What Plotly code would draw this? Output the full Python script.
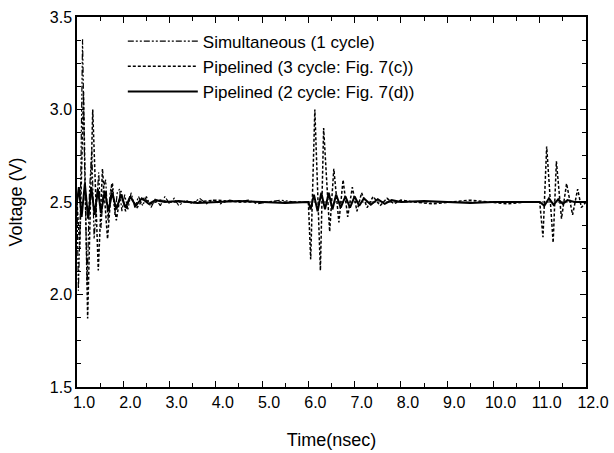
import plotly.graph_objects as go

# Simultaneous (1 cycle) - dash-dot-dot
t_sim = [1.00, 1.03, 1.07, 1.12, 1.17, 1.22, 1.27, 1.32, 1.37, 1.42, 1.47, 1.52, 1.57,
         1.62, 1.67, 1.72, 1.77, 1.82, 1.87, 1.92, 1.97, 2.03, 2.10, 2.17, 2.25, 2.33,
         2.42, 2.50, 2.60, 2.70, 2.80, 2.90, 3.00, 3.10, 3.20, 3.35, 3.50, 3.65, 3.80,
         3.95, 4.10, 4.30, 4.50, 4.70, 4.90, 5.10, 5.40, 5.70, 6.00, 7.00, 8.00, 9.00,
         10.0, 11.0, 12.0]
v_sim = [2.50, 2.02, 2.42, 3.38, 2.62, 2.05, 2.56, 2.78, 2.30, 2.46, 2.66, 2.36, 2.58,
         2.62, 2.40, 2.56, 2.60, 2.43, 2.55, 2.57, 2.45, 2.54, 2.46, 2.55, 2.47, 2.53,
         2.48, 2.53, 2.47, 2.52, 2.48, 2.53, 2.49, 2.52, 2.48, 2.51, 2.49, 2.52, 2.49,
         2.51, 2.49, 2.51, 2.50, 2.51, 2.49, 2.50, 2.51, 2.50, 2.50, 2.50, 2.50, 2.50,
         2.50, 2.50, 2.50]

# Pipelined (3 cycle: Fig. 7(c)) - dotted
t_p3 = [1.00, 1.06, 1.14, 1.23, 1.34, 1.46, 1.55, 1.66, 1.75, 1.85, 1.95, 2.05, 2.15,
        2.30, 2.45, 2.60, 2.80, 3.00, 3.50, 4.00, 4.50, 5.00, 5.50, 6.00,
        6.05, 6.14, 6.26, 6.33, 6.46, 6.55, 6.66, 6.75, 6.85, 6.95, 7.05, 7.15, 7.27,
        7.40, 7.55, 7.70, 7.85, 8.00, 8.30, 8.70, 9.10, 9.50, 9.90, 10.30, 10.70, 11.00,
        11.07, 11.15, 11.29, 11.36, 11.47, 11.58, 11.71, 11.82, 11.90, 12.00]
v_p3 = [2.50, 2.25, 3.10, 1.87, 3.00, 2.13, 2.68, 2.30, 2.60, 2.40, 2.56, 2.45, 2.53,
        2.47, 2.52, 2.49, 2.51, 2.50, 2.50, 2.51, 2.50, 2.50, 2.50, 2.50,
        2.19, 3.00, 2.13, 2.90, 2.34, 2.68, 2.39, 2.62, 2.42, 2.58, 2.45, 2.55, 2.47,
        2.53, 2.48, 2.52, 2.49, 2.51, 2.50, 2.49, 2.50, 2.51, 2.50, 2.49, 2.50, 2.50,
        2.31, 2.80, 2.28, 2.72, 2.41, 2.60, 2.43, 2.57, 2.47, 2.50]

# Pipelined (2 cycle: Fig. 7(d)) - solid
t_p2 = [1.00, 1.04, 1.10, 1.17, 1.24, 1.31, 1.38, 1.45, 1.52, 1.60, 1.68, 1.76, 1.85,
        1.95, 2.05, 2.15, 2.27, 2.40, 2.55, 2.70, 2.90, 3.20, 3.60, 4.00, 4.50, 5.00,
        5.50, 6.00, 6.05, 6.12, 6.20, 6.28, 6.36, 6.44, 6.52, 6.60, 6.70, 6.80, 6.90,
        7.00, 7.10, 7.20, 7.35, 7.50, 7.65, 7.80, 8.00, 8.50, 9.00, 9.50, 10.0, 10.5,
        11.00, 11.10, 11.20, 11.30, 11.40, 11.50, 11.60, 11.75, 12.00]
v_p2 = [2.50, 2.58, 2.42, 2.60, 2.41, 2.58, 2.43, 2.57, 2.44, 2.56, 2.45, 2.55, 2.46,
        2.54, 2.47, 2.53, 2.48, 2.52, 2.49, 2.51, 2.50, 2.505, 2.495, 2.50, 2.505, 2.50,
        2.495, 2.50, 2.46, 2.54, 2.45, 2.55, 2.46, 2.55, 2.46, 2.54, 2.47, 2.53, 2.47,
        2.53, 2.48, 2.52, 2.485, 2.515, 2.49, 2.51, 2.50, 2.505, 2.50, 2.495, 2.50, 2.50,
        2.50, 2.48, 2.52, 2.485, 2.515, 2.49, 2.51, 2.50, 2.50]

x_ticks = [1, 2, 3, 4, 5, 6, 7, 8, 9, 10, 11, 12]
x_labels = ["1.0", "2.0", "3.0", "4.0", "5.0", "6.0", "7.0", "8.0", "9.0", "10.0", "11.0", "12.0"]
y_ticks = [1.5, 2.0, 2.5, 3.0, 3.5]
y_labels = ["1.5", "2.0", "2.5", "3.0", "3.5"]

FONT = "Liberation Sans, Arial, sans-serif"

fig = go.Figure()
fig.add_trace(go.Scatter(x=t_sim, y=v_sim, mode="lines", name="Simultaneous (1 cycle)",
                         line=dict(color="black", width=1.2, dash="6px,2px,2px,2px,2px,2px")))
fig.add_trace(go.Scatter(x=t_p3, y=v_p3, mode="lines", name="Pipelined (3 cycle: Fig. 7(c))",
                         line=dict(color="black", width=1.5, dash="3px,2px")))
fig.add_trace(go.Scatter(x=t_p2, y=v_p2, mode="lines", name="Pipelined (2 cycle: Fig. 7(d))",
                         line=dict(color="black", width=2)))

axis_common = dict(showline=True, linecolor="black", linewidth=1.5, mirror="ticks",
                   ticks="inside", ticklen=6, tickwidth=1.2, tickcolor="black",
                   showgrid=False, zeroline=False, automargin=False,
                   tickfont=dict(family=FONT, size=16, color="black"))

fig.update_xaxes(range=[1, 12], tickvals=x_ticks, ticktext=x_labels, ticklabelshift=7,
                 title=dict(text="Time(nsec)", font=dict(family=FONT, size=18, color="black"), standoff=23),
                 minor=dict(dtick=0.5, ticks="inside", ticklen=4, tickcolor="black", showgrid=False),
                 **axis_common)
fig.update_yaxes(range=[1.5, 3.5], tickvals=y_ticks, ticktext=y_labels,
                 title=dict(text="Voltage (V)", font=dict(family=FONT, size=18, color="black"), standoff=22),
                 minor=dict(dtick=0.125, ticks="inside", ticklen=4, tickcolor="black", showgrid=False),
                 **axis_common)

fig.update_layout(
    width=614, height=453,
    margin=dict(l=77, r=28, t=17, b=66),
    paper_bgcolor="white", plot_bgcolor="white",
    font=dict(family=FONT, size=16, color="black"),
    showlegend=True,
    legend=dict(x=0.09, y=0.982, xanchor="left", yanchor="top", bgcolor="rgba(0,0,0,0)",
                font=dict(family=FONT, size=17, color="black"), tracegroupgap=0,
                itemwidth=70),
)

fig.write_html("out.html", config={"displayModeBar": False},
               post_script="document.body.style.margin='0';")
